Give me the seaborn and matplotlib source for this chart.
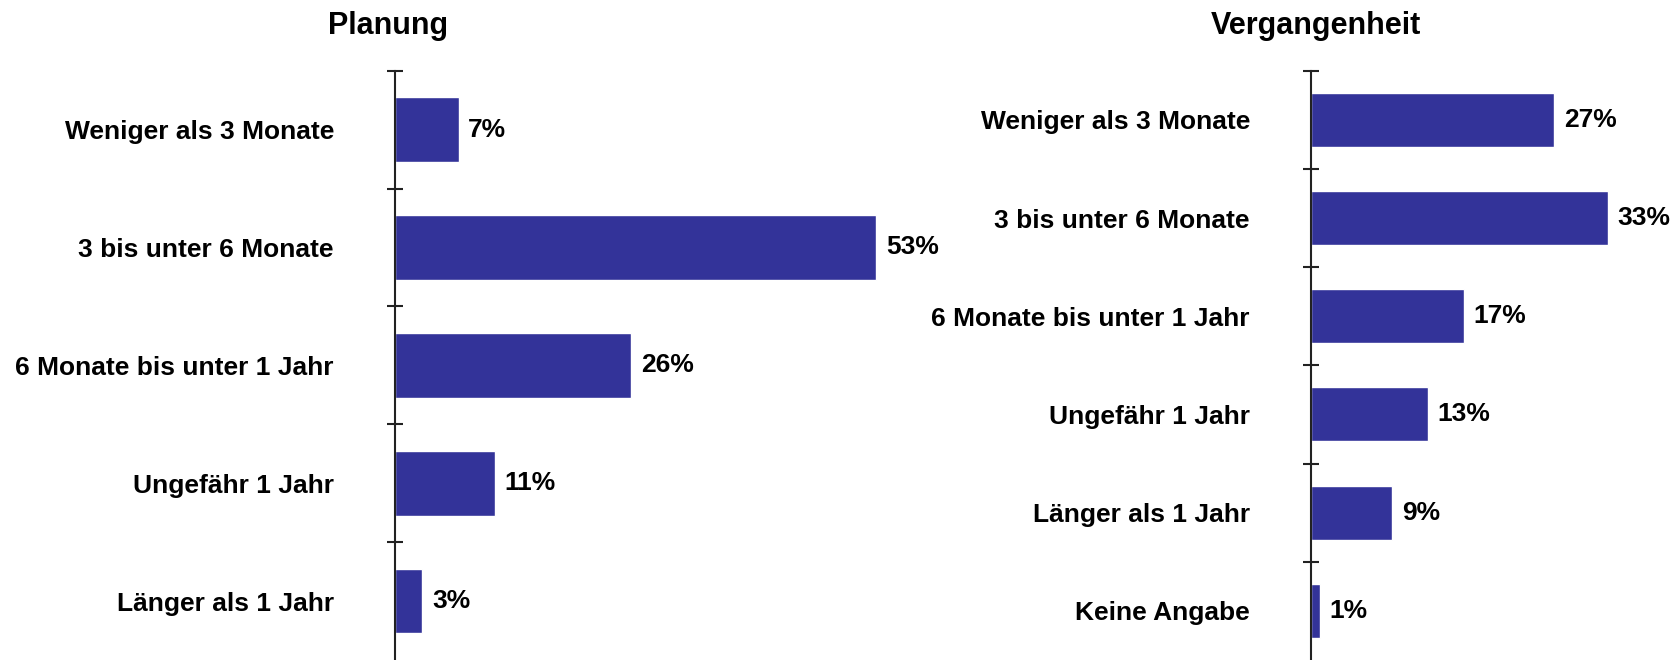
import numpy as np
import pandas as pd
import matplotlib
matplotlib.use("Agg")
import matplotlib.pyplot as plt
import seaborn as sns

# Data
planung_cats = ["Weniger als 3 Monate", "3 bis unter 6 Monate",
                "6 Monate bis unter 1 Jahr", "Ungefähr 1 Jahr",
                "Länger als 1 Jahr"]
planung_vals = [7, 53, 26, 11, 3]

vergangenheit_cats = ["Weniger als 3 Monate", "3 bis unter 6 Monate",
                      "6 Monate bis unter 1 Jahr", "Ungefähr 1 Jahr",
                      "Länger als 1 Jahr", "Keine Angabe"]
vergangenheit_vals = [27, 33, 17, 13, 9, 1]

BAR_COLOR = "#333399"

sns.set_theme(style="white")
plt.rcParams["font.family"] = ["Liberation Sans", "DejaVu Sans"]
plt.rcParams["font.weight"] = "bold"


def draw_panel(fig, rect, cats, vals, xmax, title, title_x):
    ax = fig.add_axes(rect)
    df = pd.DataFrame({"cat": cats, "val": vals})
    sns.barplot(data=df, x="val", y="cat", orient="h", color=BAR_COLOR,
                width=0.55, saturation=1, ax=ax)
    ax.set_xlim(0, xmax)
    ax.set_ylim(len(cats) - 0.5, -0.5)
    ax.set_xlabel("")
    ax.set_ylabel("")
    ax.set_xticks([])

    # labels at centers, no tick marks there
    ax.set_yticks(np.arange(len(cats)))
    ax.set_yticklabels(cats, fontsize=19, fontweight="bold", color="black")
    ax.tick_params(axis="y", which="major", length=0, pad=44)
    # boundary ticks crossing the axis line
    ax.set_yticks(np.arange(len(cats)) - 0.5, minor=True)
    ax.tick_params(axis="y", which="minor", left=True, direction="inout",
                   length=12, width=1.5, color="#222222")

    for s in ["top", "right", "bottom"]:
        ax.spines[s].set_visible(False)
    ax.spines["left"].set_color("#222222")
    ax.spines["left"].set_linewidth(1.5)

    ax.bar_label(ax.containers[0], labels=[f"{v}%" for v in vals],
                 padding=7, fontsize=19, fontweight="bold", color="black")

    fig.text(title_x, 1 - 34 / 660, title, ha="center", va="baseline",
             fontsize=22, fontweight="bold", color="black")
    return ax


fig = plt.figure(figsize=(16.79, 6.6), dpi=100)
top = 1 - 70.7 / 660

draw_panel(fig, [395 / 1679, 0, 60 * 9.08 / 1679, top],
           planung_cats, planung_vals, 60, "Planung", 388 / 1679)
draw_panel(fig, [1311 / 1679, 0, 36 * 9.0 / 1679, top],
           vergangenheit_cats, vergangenheit_vals, 36, "Vergangenheit",
           1316 / 1679)

fig.savefig("out.png", dpi=100, facecolor="white")
